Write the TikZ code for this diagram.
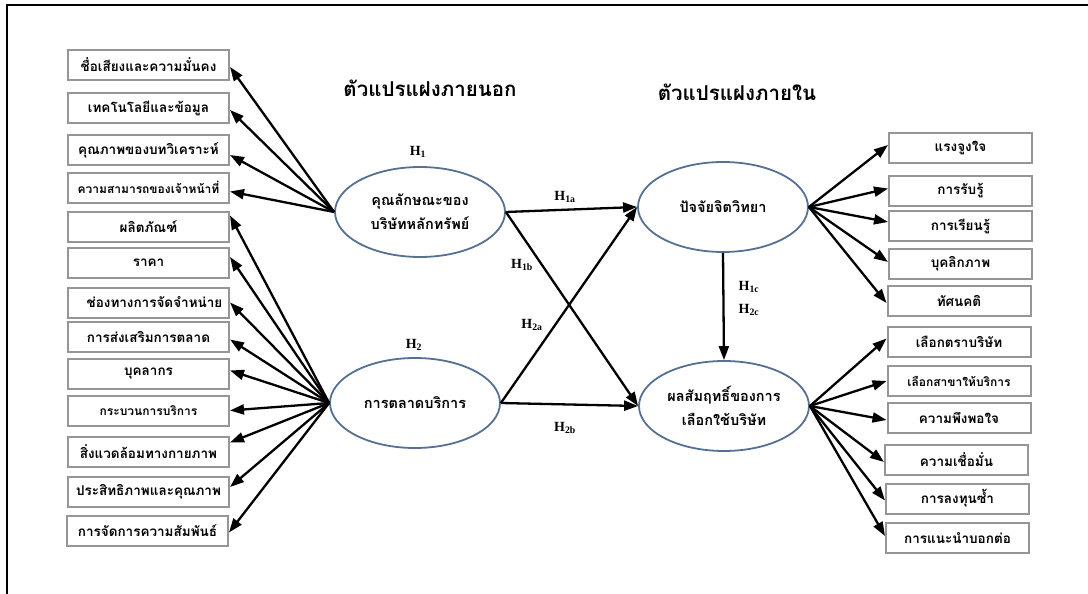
\documentclass[tikz,border=0pt]{standalone}
\usepackage{fontspec}
\setmainfont{Liberation Serif}
\newfontfamily\thai[Script=Thai]{Loma}
\usetikzlibrary{shapes.geometric}
\usetikzlibrary {arrows.meta}

\definecolor{boxgray}{RGB}{150,150,150}
\definecolor{ellblue}{RGB}{85,112,145}

\begin{document}
\begin{tikzpicture}[
x=1pt, y=-1pt,
item/.style={
    draw=boxgray,
    line width=2pt,
    minimum width=161pt,
    minimum height=30pt,
    inner sep=0pt,
    font=\thai\bfseries\fontsize{13.5}{15}\selectfont
},
ritem/.style={
    item,
    minimum width=143pt
},
small/.style={
    font=\thai\bfseries\fontsize{12}{14}\selectfont
},
latent/.style={
    ellipse,
    draw=ellblue,
    line width=1.8pt,
    minimum width=170pt,
    minimum height=90pt,
    inner sep=0pt,
    align=center,
    font=\thai\bfseries\fontsize{14.5}{24}\selectfont
},
title/.style={
    font=\thai\bfseries\fontsize{20.5}{22}\selectfont
},
hyp/.style={
    font=\bfseries\fontsize{14}{16}\selectfont
},
arr/.style={
    -{Triangle[length=14pt,width=10pt]},
    line width=2.3pt
}
]
\useasboundingbox (0,0) rectangle (1088,594);
\draw[line width=1.4pt] (7,594) -- (7,5) -- (1088,5);

% titles
\node[title] (exo) at (430,88) {ตัวแปรแฝงภายนอก};
\node[title] (endo) at (737,92) {ตัวแปรแฝงภายใน};

% latent variables
\node[latent] (firm) at (420,212) {คุณลักษณะของ\\บริษัทหลักทรัพย์};
\node[latent] (mkt) at (415,403) {การตลาดบริการ};
\node[latent] (psy) at (723,207) {ปัจจัยจิตวิทยา};
\node[latent] (res) at (724,406) {ผลสัมฤทธิ์ของการ\\เลือกใช้บริษัท};

% left indicators
\node[item] (f1) at (148.5,65) {ชื่อเสียงและความมั่นคง};
\node[item] (f2) at (148.5,108) {เทคโนโลยีและข้อมูล};
\node[item] (f3) at (148.5,150) {คุณภาพของบทวิเคราะห์};
\node[item, small] (f4) at (148.5,187.5) {ความสามารถของเจ้าหน้าที่};
\node[item] (m1) at (148.5,226.5) {ผลิตภัณฑ์};
\node[item] (m2) at (148.5,263) {ราคา};
\node[item] (m3) at (148.5,302.5) {\hspace{12pt}ช่องทางการจัดจำหน่าย};
\node[item] (m4) at (148.5,336.5) {การส่งเสริมการตลาด};
\node[item] (m5) at (148.5,373.5) {บุคลากร};
\node[item, small] (m6) at (148.5,410.5) {กระบวนการบริการ};
\node[item] (m7) at (148.5,451.5) {สิ่งแวดล้อมทางกายภาพ};
\node[item] (m8) at (148.5,492) {ประสิทธิภาพและคุณภาพ};
\node[item] (m9) at (147.5,530.5) {การจัดการความสัมพันธ์};

% right indicators
\node[ritem] (p1) at (960.5,148) {แรงจูงใจ};
\node[ritem] (p2) at (960.5,190.5) {การรับรู้};
\node[ritem] (p3) at (960.5,226) {การเรียนรู้};
\node[ritem] (p4) at (960.5,264) {บุคลิกภาพ};
\node[ritem] (p5) at (959,301) {ทัศนคติ};
\node[ritem] (r1) at (959,341.5) {เลือกตราบริษัท};
\node[ritem, small] (r2) at (959,381) {เลือกสาขาให้บริการ};
\node[ritem] (r3) at (959,418) {ความพึงพอใจ};
\node[ritem] (r4) at (956.5,460) {ความเชื่อมั่น};
\node[ritem] (r5) at (957.5,498.5) {การลงทุนซ้ำ};
\node[ritem] (r6) at (957.5,538) {การแนะนำบอกต่อ};

% hypothesis labels
\node[hyp] (h1) at (418,152) {H\textsubscript{1}};
\node[hyp] (h2) at (414,345) {H\textsubscript{2}};
\node[hyp] (h1a) at (565,197) {H\textsubscript{1a}};
\node[hyp] (h1b) at (522,265) {H\textsubscript{1b}};
\node[hyp] (h2a) at (532,325) {H\textsubscript{2a}};
\node[hyp] (h2b) at (565,428) {H\textsubscript{2b}};
\node[hyp] (h1c) at (749,287) {H\textsubscript{1c}};
\node[hyp] (h2c) at (749,310) {H\textsubscript{2c}};

% structural paths
\draw[arr] (firm.east) -- (psy.west);
\draw[arr] (firm.east) -- (res.west);
\draw[arr] (mkt.east) -- (psy.west);
\draw[arr] (mkt.east) -- (res.west);
\draw[arr] (psy.south) -- (res.north);

% measurement paths
\draw[arr] (firm.west) -- ([yshift=-2pt]f1.east);
\draw[arr] (firm.west) -- ([yshift=-2pt]f2.east);
\draw[arr] (firm.west) -- ([yshift=-5pt]f3.east);
\draw[arr] (firm.west) -- ([yshift=-4pt]f4.east);
\draw[arr] (mkt.west) -- ([yshift=11pt]m1.east);
\draw[arr] (mkt.west) -- ([yshift=6pt]m2.east);
\draw[arr] (mkt.west) -- (m3.east);
\draw[arr] (mkt.west) -- ([yshift=-3pt]m4.east);
\draw[arr] (mkt.west) -- ([yshift=3pt]m5.east);
\draw[arr] (mkt.west) -- (m6.east);
\draw[arr] (mkt.west) -- ([yshift=9pt]m7.east);
\draw[arr] (mkt.west) -- ([yshift=5pt]m8.east);
\draw[arr] (mkt.west) -- ([yshift=-2pt]m9.east);

\draw[arr] (psy.east) -- ([yshift=3pt]p1.west);
\draw[arr] (psy.east) -- ([yshift=2pt]p2.west);
\draw[arr] (psy.east) -- ([yshift=4pt]p3.west);
\draw[arr] (psy.east) -- ([yshift=2pt]p4.west);
\draw[arr] (psy.east) -- ([yshift=-2pt]p5.west);
\draw[arr] (res.east) -- ([yshift=3pt]r1.west);
\draw[arr] (res.east) -- (r2.west);
\draw[arr] (res.east) -- ([yshift=-2pt]r3.west);
\draw[arr] (res.east) -- ([yshift=-2pt]r4.west);
\draw[arr] (res.east) -- ([yshift=-2pt]r5.west);
\draw[arr] (res.east) -- ([yshift=2pt]r6.west);
\end{tikzpicture}
\end{document}
